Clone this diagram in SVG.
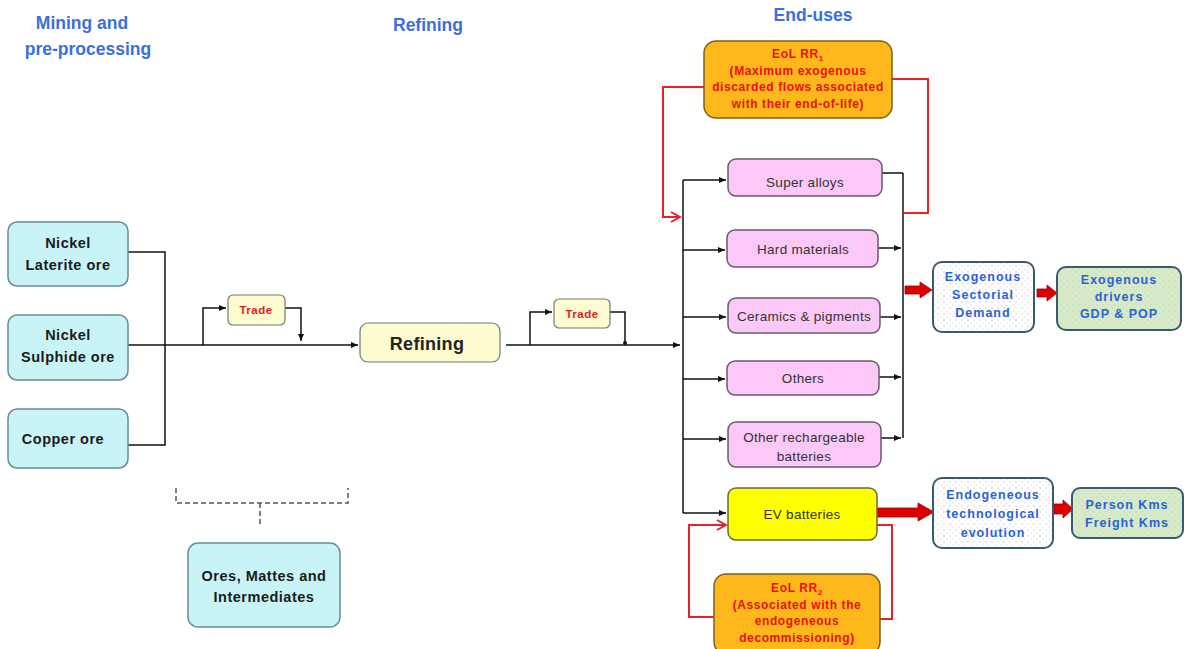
<svg xmlns="http://www.w3.org/2000/svg" width="1184" height="649" viewBox="0 0 1184 649">
<style>
text{font-family:"Liberation Sans",Arial,sans-serif;text-anchor:middle}
.h{font-size:17.5px;font-weight:bold;fill:#3a6fdc}
.ore{fill:#c8f4f8;stroke:#6a8a94;stroke-width:1.5}
.t13{font-size:14.5px;font-weight:bold;fill:#1a1a1a;letter-spacing:0.5px}
.trade{fill:#fdfbd0;stroke:#777;stroke-width:1.2}
.tr{font-size:11.5px;font-weight:bold;fill:#e02020;letter-spacing:0.5px}
.eu{fill:#fbc8f8;stroke:#6a5a70;stroke-width:1.5}
.t12{font-size:13.5px;fill:#333;letter-spacing:0.3px}
.eol{fill:#ffb81c;stroke:#7a6020;stroke-width:1.5}
.te{font-size:12px;font-weight:bold;fill:#e8100c;letter-spacing:0.6px}
.blue{font-size:12.5px;font-weight:bold;fill:#2a62d4;letter-spacing:1px}
.ln{fill:none;stroke:#111;stroke-width:1.5}
.rl{fill:none;stroke:#e8202a;stroke-width:2}
.ra{fill:#dd0000;stroke:#900;stroke-width:0.8}
</style>
<defs>
<marker id="ak" markerWidth="8" markerHeight="8" refX="7" refY="4" orient="auto" markerUnits="userSpaceOnUse"><path d="M0,1 L7,4 L0,7 z" fill="#111"/></marker>
<marker id="ar" markerWidth="12" markerHeight="12" refX="10" refY="6" orient="auto" markerUnits="userSpaceOnUse"><path d="M1,1 L10,6 L1,11" fill="none" stroke="#e8202a" stroke-width="2"/></marker>
<pattern id="dots" width="6" height="6" patternUnits="userSpaceOnUse"><rect width="6" height="6" fill="#ffffff"/><circle cx="2" cy="2" r="0.7" fill="#d8b8b8"/><circle cx="5" cy="5" r="0.6" fill="#b8c8e0"/></pattern>
<pattern id="dots2" width="6" height="6" patternUnits="userSpaceOnUse"><rect width="6" height="6" fill="#d6ecc8"/><circle cx="2" cy="2" r="0.7" fill="#e8c0a8"/><circle cx="5" cy="5" r="0.6" fill="#a8c0d8"/></pattern>
</defs>

<g id="headings">
<text class="h" x="82" y="29">Mining and</text>
<text class="h" x="88" y="55">pre-processing</text>
<text class="h" x="428" y="31">Refining</text>
<text class="h" x="813" y="21">End-uses</text>
</g>

<g id="connectors">
<path class="ln" d="M128,252 H165 V445 H128"/>
<path class="ln" d="M128,345 H358" marker-end="url(#ak)"/>
<path class="ln" d="M203,345 V308 H226" marker-end="url(#ak)"/>
<path class="ln" d="M285,308 H301 V341" marker-end="url(#ak)"/>
<path class="ln" d="M506,345 H680" marker-end="url(#ak)"/>
<path class="ln" d="M530,345 V312 H552" marker-end="url(#ak)"/>
<path class="ln" d="M610,312 H625 V343"/>
<circle cx="625" cy="343" r="2" fill="#111"/>
<path class="ln" d="M683,180 V513"/>
<path class="ln" d="M683,180 H726" marker-end="url(#ak)"/>
<path class="ln" d="M683,250 H725" marker-end="url(#ak)"/>
<path class="ln" d="M683,317 H726" marker-end="url(#ak)"/>
<path class="ln" d="M683,379 H725" marker-end="url(#ak)"/>
<path class="ln" d="M683,439 H726" marker-end="url(#ak)"/>
<path class="ln" d="M683,513 H726" marker-end="url(#ak)"/>
<path class="ln" d="M882,173 H903"/>
<path class="ln" d="M878,248 H901" marker-end="url(#ak)"/>
<path class="ln" d="M880,317 H901" marker-end="url(#ak)"/>
<path class="ln" d="M879,377 H901" marker-end="url(#ak)"/>
<path class="ln" d="M881,438 H901" marker-end="url(#ak)"/>
<path class="ln" d="M903,173 V438"/>
<path class="rl" d="M704,87 H663 V217 H680" marker-end="url(#ar)"/>
<path class="rl" d="M892,79 H928 V213 H903"/>
<path class="rl" d="M714,617 H689 V525 H726" marker-end="url(#ar)"/>
<path class="rl" d="M880,619 H892 V525 H877"/>
<polygon class="ra" points="905,286 920,286 920,282 932,290 920,298 920,294 905,294"/>
<polygon class="ra" points="1037,289 1047,289 1047,285 1057,293 1047,301 1047,297 1037,297"/>
<polygon class="ra" points="877,508 918,508 918,503 934,512 918,521 918,517 877,517"/>
<polygon class="ra" points="1054,504 1063,504 1063,500 1073,509 1063,518 1063,514 1054,514"/>
<path d="M176,488 V503 H348 V488 M260,503 V525" fill="none" stroke="#555" stroke-width="1.5" stroke-dasharray="5,3"/>
</g>

<g id="n-laterite"><rect class="ore" x="8" y="222" width="120" height="64" rx="9"/><text class="t13" x="68" y="248">Nickel</text><text class="t13" x="68" y="270">Laterite ore</text></g>
<g id="n-sulphide"><rect class="ore" x="8" y="315" width="120" height="65" rx="9"/><text class="t13" x="68" y="340">Nickel</text><text class="t13" x="68" y="362">Sulphide ore</text></g>
<g id="n-copper"><rect class="ore" x="8" y="409" width="120" height="59" rx="9"/><text class="t13" x="63" y="444">Copper ore</text></g>
<g id="n-trade1"><rect class="trade" x="228" y="295" width="57" height="30" rx="5"/><text class="tr" x="256" y="314">Trade</text></g>
<g id="n-refining"><rect class="trade" x="360" y="323" width="140" height="39" rx="8"/><text x="427" y="350" style="font-size:18px;font-weight:bold;fill:#222;letter-spacing:0.3px">Refining</text></g>
<g id="n-trade2"><rect class="trade" x="554" y="299" width="56" height="29" rx="5"/><text class="tr" x="582" y="318">Trade</text></g>
<g id="n-eol1"><rect class="eol" x="704" y="41" width="188" height="77" rx="12"/><text class="te" x="798" y="58">EoL RR<tspan dy="3" font-size="8">1</tspan></text><text class="te" x="798" y="75">(Maximum exogenous</text><text class="te" x="798" y="91">discarded flows associated</text><text class="te" x="798" y="108">with their end-of-life)</text></g>
<g id="n-super"><rect class="eu" x="728" y="159" width="154" height="37" rx="8"/><text class="t12" x="805" y="187">Super alloys</text></g>
<g id="n-hard"><rect class="eu" x="727" y="230" width="151" height="37" rx="8"/><text class="t12" x="803" y="254">Hard materials</text></g>
<g id="n-ceramics"><rect class="eu" x="728" y="298" width="152" height="35" rx="8"/><text class="t12" x="804" y="321">Ceramics &amp; pigments</text></g>
<g id="n-others"><rect class="eu" x="727" y="361" width="152" height="34" rx="8"/><text class="t12" x="803" y="383">Others</text></g>
<g id="n-recharge"><rect class="eu" x="728" y="422" width="153" height="45" rx="8"/><text class="t12" x="804" y="442">Other rechargeable</text><text class="t12" x="804" y="461">batteries</text></g>
<g id="n-ev"><rect x="728" y="488" width="149" height="52" rx="8" fill="#ffff00" stroke="#6a6a30" stroke-width="1.5"/><text class="t12" x="802" y="519">EV batteries</text></g>
<g id="n-eol2"><rect class="eol" x="714" y="574" width="166" height="80" rx="12"/><text class="te" x="797" y="592">EoL RR<tspan dy="3" font-size="8">2</tspan></text><text class="te" x="797" y="609">(Associated with the</text><text class="te" x="797" y="625">endogeneous</text><text class="te" x="797" y="642">decommissioning)</text></g>
<g id="n-exo-demand"><rect x="933" y="262" width="101" height="70" rx="9" fill="url(#dots)" stroke="#3a5a70" stroke-width="2"/><text class="blue" x="983" y="281">Exogenous</text><text class="blue" x="983" y="299">Sectorial</text><text class="blue" x="983" y="317">Demand</text></g>
<g id="n-exo-drivers"><rect x="1057" y="267" width="124" height="63" rx="9" fill="url(#dots2)" stroke="#3a5a70" stroke-width="2"/><text class="blue" x="1119" y="284">Exogenous</text><text class="blue" x="1119" y="301">drivers</text><text class="blue" x="1119" y="318">GDP &amp; POP</text></g>
<g id="n-endo"><rect x="933" y="478" width="120" height="70" rx="9" fill="url(#dots)" stroke="#3a5a70" stroke-width="2"/><text class="blue" x="993" y="499">Endogeneous</text><text class="blue" x="993" y="518">technological</text><text class="blue" x="993" y="537">evolution</text></g>
<g id="n-kms"><rect x="1072" y="488" width="111" height="50" rx="8" fill="url(#dots2)" stroke="#3a5a70" stroke-width="2"/><text class="blue" x="1127" y="509">Person Kms</text><text class="blue" x="1127" y="527">Freight Kms</text></g>
<g id="n-ores"><rect class="ore" x="188" y="543" width="152" height="84" rx="10"/><text class="t13" x="264" y="581">Ores, Mattes and</text><text class="t13" x="264" y="602">Intermediates</text></g>
</svg>
